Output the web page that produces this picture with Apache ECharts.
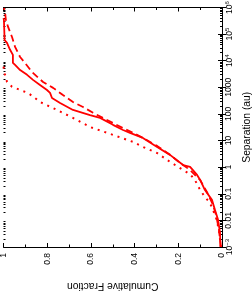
<!DOCTYPE html>
<html><head><meta charset="utf-8">
<script src="https://cdn.jsdelivr.net/npm/echarts@6/dist/echarts.min.js"></script>
<style>html,body{margin:0;padding:0;background:#fff}#c{width:252px;height:293px}</style>
</head><body><div id="c"></div>
<script>
// Cumulative fraction (x) vs separation in au (y)
const solidFrac = [0.007,0.009,0.018,0.032,0.046,0.078,0.10,0.114,0.146,0.178,0.238,0.297,0.362,0.421,0.453,0.499,0.558,0.604,0.682,0.741,0.778,0.787,0.801,0.833,0.865,0.892,0.924,0.947,0.957,0.957,0.970,0.984,0.995,0.998,1.0];
const solidSep  = [0.001,0.0034,0.0105,0.0245,0.059,0.138,0.33,0.51,1.02,1.2,2.9,5.75,12.6,19.5,25,39,71,91,141,257,398,617,794,1230,1905,2950,4470,6920,8320,16600,25700,46800,60300,339000,400000];
const dashFrac = [0.005,0.014,0.027,0.041,0.069,0.10,0.146,0.192,0.238,0.297,0.362,0.407,0.453,0.499,0.545,0.590,0.636,0.682,0.728,0.773,0.819,0.870,0.902,0.924,0.947,0.961,0.979,0.989,0.993,0.998];
const dashSep  = [0.001,0.0044,0.0158,0.038,0.117,0.33,0.78,1.45,2.9,6.3,12.6,19.5,29.5,45.7,71,110,182,282,513,955,1585,3800,8320,13800,33100,77600,186000,339000,676000,955000];
const dotFrac = [0.005,0.014,0.027,0.041,0.055,0.078,0.10,0.124,0.146,0.178,0.238,0.297,0.362,0.407,0.526,0.604,0.682,0.755,0.833,0.856,0.888,0.924,0.961,0.984,0.989,0.998,1.0];
const dotSep  = [0.001,0.0044,0.0123,0.0245,0.0447,0.076,0.138,0.33,0.55,0.78,1.58,3.4,5.75,8.9,19.5,32.4,71,141,282,398,617,794,1050,1585,2450,3800,6900];
// Tick labels
const fracTickValues = [0,0.2,0.4,0.6,0.8,1];
const sepTickLabels = {'-3':'{b|10}{s|−3}','-2':'0.01','-1':'0.1','0':'1','1':'10','2':'100','3':'1000','4':'{b|10}{s|4}','5':'{b|10}{s|5}','6':'{b|10}{s|6}'};

const minorLog = [];
for (let e = -3; e < 6; e++) for (let m = 2; m <= 9; m++) minorLog.push(m * Math.pow(10, e));

const pair = (a, b) => a.map((v, i) => [v, b[i]]);
const FONT = 'Liberation Sans';
const TFONT = '"Liberation Sans Narrow", "Liberation Sans"';
const chart = echarts.init(document.getElementById('c'));
const baseX = {
  type: 'value', min: 0, max: 1, interval: 0.2, inverse: true,
  axisLine: {lineStyle: {color: '#000', width: 1}},
  axisTick: {show: true, inside: true, length: 4, lineStyle: {color: '#000'}},
  minorTick: {show: true, splitNumber: 2, length: 2.5, lineStyle: {color: '#000'}},
  splitLine: {show: false}
};
const baseY = {
  type: 'log', logBase: 10, min: 0.001, max: 1000000, splitNumber: 9,
  axisLine: {lineStyle: {color: '#000', width: 1}},
  axisTick: {show: true, inside: true, length: 4, lineStyle: {color: '#000'}},
  splitLine: {show: false}, axisLabel: {show: false}
};
const minorY = (pos) => Object.assign({}, baseY, {
  position: pos, axisLine: {show: false},
  axisTick: {show: true, inside: true, length: 2, customValues: minorLog, lineStyle: {color: '#000'}}
});
chart.setOption({
  animation: false,
  grid: {left: 3.5, right: 30, top: 7.5, bottom: 46, containLabel: false, outerBoundsMode: 'none'},
  xAxis: [
    Object.assign({}, baseX, {
      position: 'bottom',
      axisLabel: {rotate: 90, fontSize: 8.5, color: '#000', fontFamily: TFONT, margin: 6,
        customValues: fracTickValues, formatter: v => String(+v.toFixed(1))},
      name: 'Cumulative Fraction', nameLocation: 'middle', nameRotate: 180, nameGap: 34,
      nameTextStyle: {fontSize: 10.3, color: '#000', fontFamily: FONT}
    }),
    Object.assign({}, baseX, {position: 'top', axisLabel: {show: false}})
  ],
  yAxis: [
    Object.assign({}, baseY, {
      position: 'right',
      axisLabel: {show: true, rotate: 90, fontSize: 8.5, color: '#000', fontFamily: TFONT, margin: 2,
        formatter: v => sepTickLabels[String(Math.round(Math.log10(v)))] || '',
        rich: {b: {fontSize: 8.5, fontFamily: TFONT, color: '#000'}, s: {fontSize: 6, fontFamily: TFONT, color: '#000', verticalAlign: 'top', padding: [0,0,5,0]}}},
      name: 'Separation (au)', nameLocation: 'middle', nameRotate: 90, nameGap: 17,
      nameTextStyle: {fontSize: 10.3, color: '#000', fontFamily: FONT}
    }),
    Object.assign({}, baseY, {position: 'left'}),
    minorY('right'),
    minorY('left')
  ],
  series: [
    {type: 'line', data: pair(solidFrac, solidSep), showSymbol: false, symbol: 'none',
      lineStyle: {color: '#ff0000', width: 1.8}},
    {type: 'line', data: pair(dashFrac, dashSep), showSymbol: false, symbol: 'none',
      lineStyle: {color: '#ff0000', width: 1.8, type: [7, 4]}},
    {type: 'line', data: pair(dotFrac, dotSep), showSymbol: false, symbol: 'none',
      lineStyle: {color: '#ff0000', width: 2, type: [2, 5]}}
  ]
});
</script></body></html>
